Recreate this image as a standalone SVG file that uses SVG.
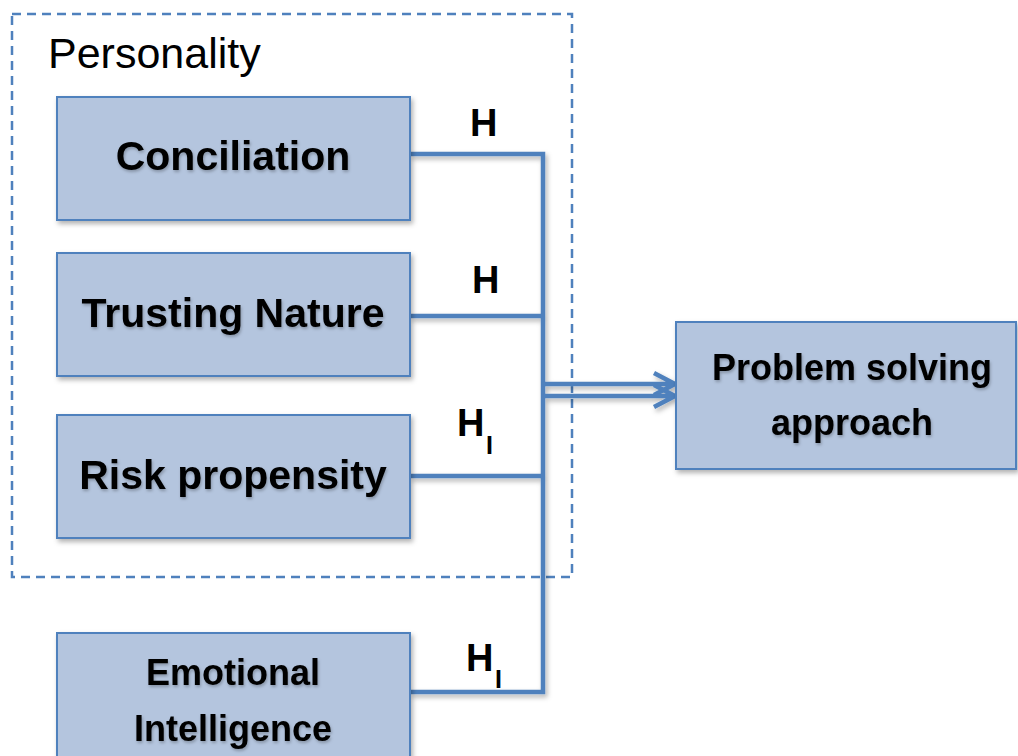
<svg xmlns="http://www.w3.org/2000/svg" width="1018" height="756" viewBox="0 0 1018 756">
<defs>
<filter id="sh" x="-10%" y="-10%" width="130%" height="140%">
<feDropShadow dx="2" dy="3" stdDeviation="2.5" flood-color="#000" flood-opacity="0.3"/>
</filter>
<filter id="tsh" x="-5%" y="-20%" width="110%" height="150%">
<feDropShadow dx="1" dy="2" stdDeviation="1.5" flood-color="#000" flood-opacity="0.25"/>
</filter>
</defs>
<style>
.box{fill:#b4c5de;stroke:#4f81bd;stroke-width:2}
.lbl{font-family:"Liberation Sans",Arial,sans-serif;font-weight:bold;font-size:41px;fill:#000;text-anchor:middle}
.lbl2{font-family:"Liberation Sans",Arial,sans-serif;font-weight:bold;font-size:36px;fill:#000;text-anchor:middle}
.h{font-family:"Liberation Sans",Arial,sans-serif;font-weight:bold;font-size:38px;fill:#000}
.sub{font-family:"Liberation Sans",Arial,sans-serif;font-weight:bold;font-size:25px;fill:#000}
.conn{fill:none;stroke:#4f81bd;stroke-width:4.5;stroke-linejoin:miter}
</style>
<rect width="1018" height="756" fill="#fff"/>
<g id="personality">
<rect x="12" y="14" width="560" height="563" fill="none" stroke="#4f81bd" stroke-width="2.5" stroke-dasharray="9,6"/>
<text x="48" y="68" font-family="'Liberation Sans',Arial,sans-serif" font-size="43" fill="#000">Personality</text>
</g>
<g id="connectors" filter="url(#sh)">
<path class="conn" d="M410,154 H543 V692 H410"/>
<path class="conn" d="M410,316 H543"/>
<path class="conn" d="M410,476 H543"/>
<path class="conn" d="M543,384 H673 M654,373 L675,384 L654,395"/>
<path class="conn" d="M543,396 H673 M654,385 L675,396 L654,407"/>
</g>
<g id="conciliation">
<rect class="box" x="57" y="97" width="353" height="123" filter="url(#sh)"/>
<text class="lbl" x="233" y="170" filter="url(#tsh)">Conciliation</text>
</g>
<g id="trusting">
<rect class="box" x="57" y="253" width="353" height="123" filter="url(#sh)"/>
<text class="lbl" x="233" y="327" filter="url(#tsh)">Trusting Nature</text>
</g>
<g id="risk">
<rect class="box" x="57" y="415" width="353" height="123" filter="url(#sh)"/>
<text class="lbl" x="233" y="489" filter="url(#tsh)">Risk propensity</text>
</g>
<g id="emotional">
<rect class="box" x="57" y="633" width="353" height="140" filter="url(#sh)"/>
<text class="lbl2" x="233" y="685" filter="url(#tsh)">Emotional</text>
<text class="lbl2" x="233" y="741" filter="url(#tsh)">Intelligence</text>
</g>
<g id="problem">
<rect class="box" x="676" y="322" width="340" height="147" filter="url(#sh)"/>
<text class="lbl2" x="852" y="380" filter="url(#tsh)">Problem solving</text>
<text class="lbl2" x="852" y="435" filter="url(#tsh)">approach</text>
</g>
<g id="labels">
<text class="h" x="470" y="136">H</text>
<text class="h" x="472" y="293">H</text>
<text class="h" x="457" y="436">H</text>
<text class="sub" x="486" y="454">I</text>
<text class="h" x="466" y="671">H</text>
<text class="sub" x="495" y="688">I</text>
</g>
</svg>
